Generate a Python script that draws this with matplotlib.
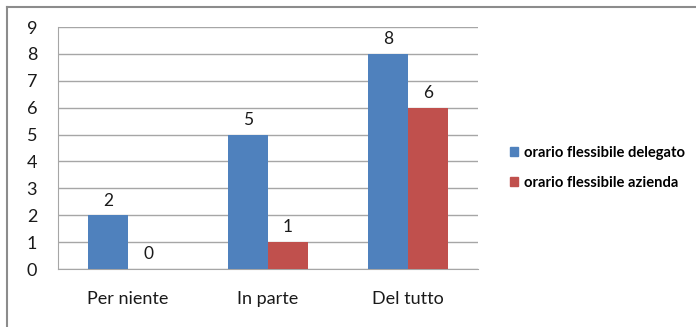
import numpy as np
import matplotlib.pyplot as plt
from matplotlib.lines import Line2D

categories = ["Per niente", "In parte", "Del tutto"]
delegato = [2, 5, 8]
azienda = [0, 1, 6]
series_names = ["orario flessibile delegato", "orario flessibile azienda"]
yticks = list(range(0, 10))

blue = "#4f81bd"
red = "#c0504d"
grid = "#a6a6a6"
txt = "#1a1a1a"

plt.rcParams['font.family'] = ['Lato', 'DejaVu Sans']

fig = plt.figure(figsize=(6.96, 3.27), dpi=100)
W, H = 696, 327
ax = fig.add_axes([58 / W, 1 - 269 / H, (478 - 58) / W, (269 - 27) / H])

x = np.arange(len(categories))
bw = 0.286
b1 = ax.bar(x - bw / 2, delegato, bw, color=blue, zorder=3, label=series_names[0])
b2 = ax.bar(x + bw / 2, azienda, bw, color=red, zorder=3, label=series_names[1])

for bars, vals in ((b1, delegato), (b2, azienda)):
    for r, v in zip(bars, vals):
        ax.text(r.get_x() + r.get_width() / 2, v + 0.25, str(v), ha='center',
                va='bottom', fontsize=12.5, color=txt)

ax.set_xlim(-0.5, 2.5)
ax.set_ylim(0, 9)
ax.set_yticks(yticks)
ax.set_xticks(x)
ax.set_xticklabels(categories)
ax.tick_params(axis='y', length=0, pad=15, labelsize=13, labelcolor=txt)
ax.tick_params(axis='x', length=0, pad=16, labelsize=13, labelcolor=txt)
ax.yaxis.grid(True, color=grid, lw=1, zorder=0)
for s in ['top', 'right']:
    ax.spines[s].set_visible(False)
ax.spines['left'].set_color(grid)
ax.spines['bottom'].set_color(grid)

handles = [plt.Rectangle((0, 0), 1, 1, color=blue), plt.Rectangle((0, 0), 1, 1, color=red)]
fig.legend(handles, series_names, loc='center left', bbox_to_anchor=(497 / W, 1 - 168 / H),
           frameon=False, prop={'size': 10.6, 'weight': 'bold'},
           handlelength=0.55, handleheight=0.55, handletextpad=0.35, labelspacing=1.1)

# outer frame (left and top edges visible)
fig.add_artist(Line2D([7 / W, 7 / W], [0, 1 - 7 / H], color='#8c8c8c', lw=1.5))
fig.add_artist(Line2D([7 / W, 1], [1 - 7 / H, 1 - 7 / H], color='#8c8c8c', lw=1.5))

fig.savefig("out.png", dpi=100)
